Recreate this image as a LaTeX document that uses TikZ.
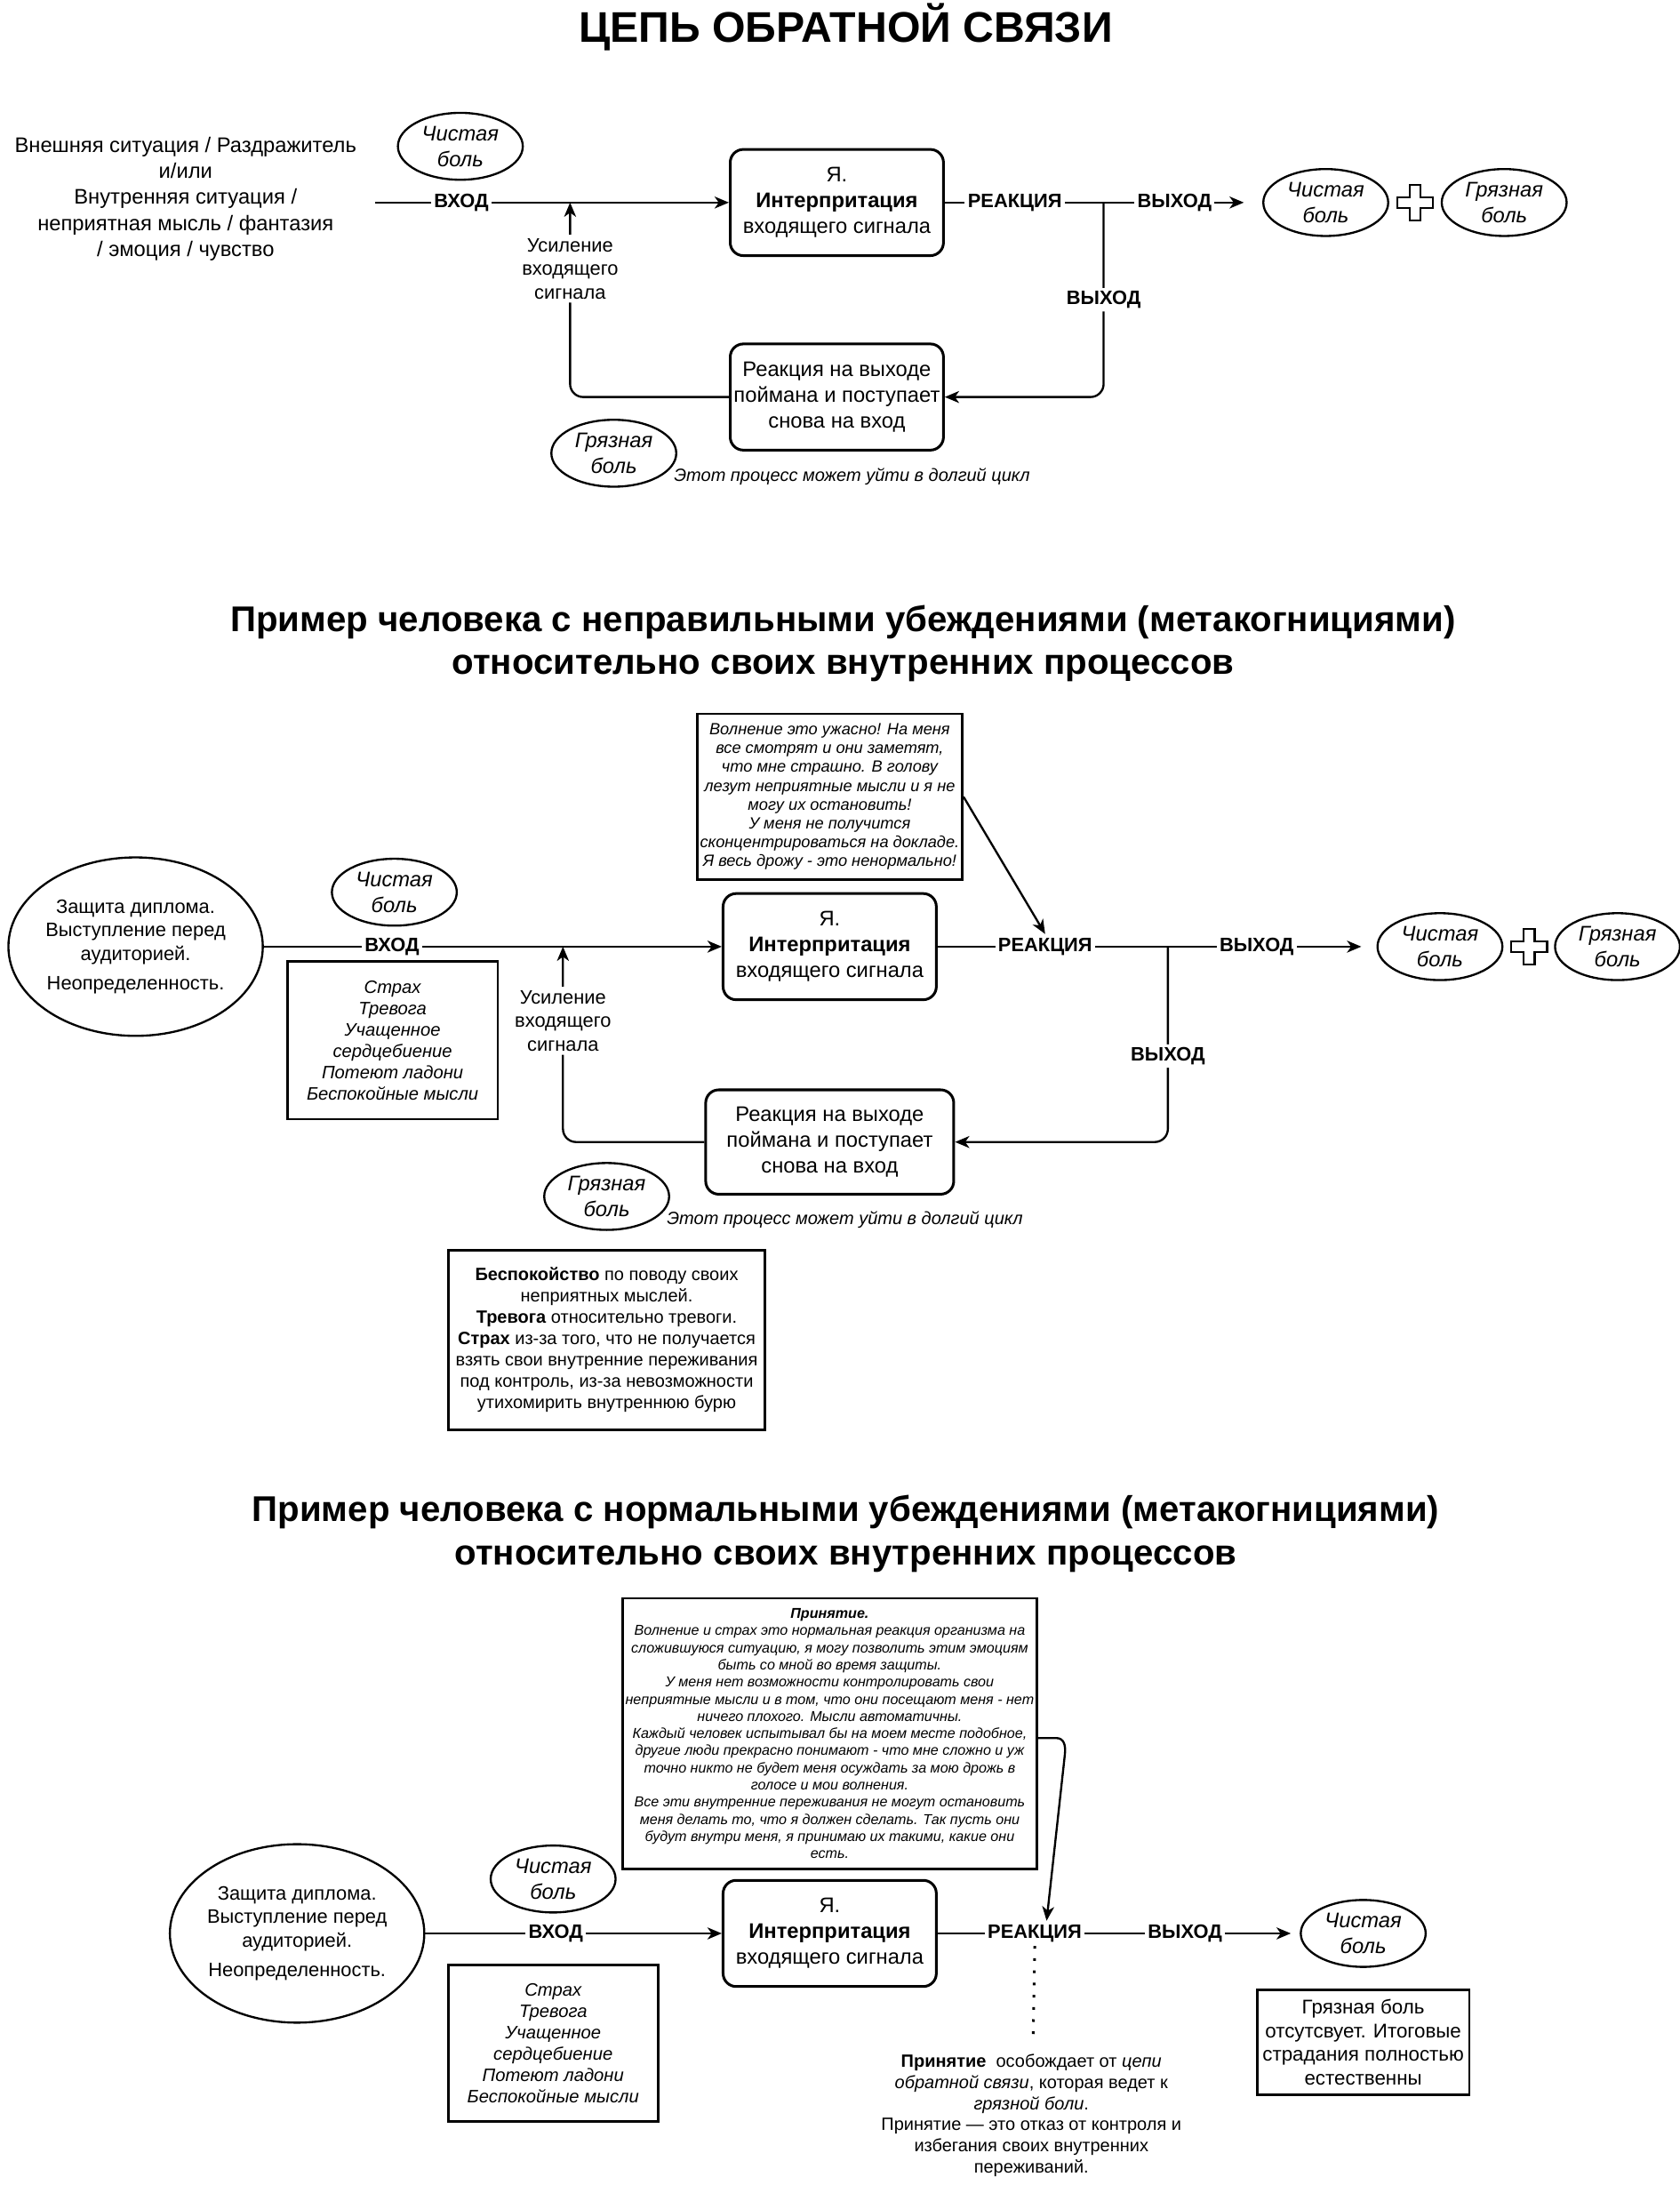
\documentclass[tikz,border=0pt]{standalone}
\usepackage{fontspec}
\setmainfont{Liberation Sans}
\usetikzlibrary{arrows.meta, shapes.geometric, positioning, calc}

\tikzset{
    txt/.style={align=center, font=\fontsize{10.1}{12.4}\selectfont},
    procbox/.style={txt, draw, line width=0.45mm, rounded corners=2.2mm, minimum width=35.85mm, minimum height=17.85mm, inner sep=0.5mm},
    painell/.style={ellipse, draw, line width=0.35mm, minimum width=21mm, minimum height=11.25mm, inner sep=0pt, align=center, font=\fontsize{10.1}{12.4}\selectfont\itshape},
    triggerell/.style={ellipse, draw, line width=0.35mm, minimum width=42mm, minimum height=30mm, inner sep=0pt, align=center, font=\fontsize{9.3}{11.3}\selectfont},
    notebox/.style={draw, line width=0.4mm, align=center, inner sep=0.5mm},
    lbl/.style={fill=white, inner sep=0.5mm, font=\fontsize{9.3}{11}\selectfont\bfseries},
    amplbl/.style={fill=white, inner sep=0.6mm, align=center, font=\fontsize{9.3}{11.3}\selectfont},
    loopnote/.style={font=\fontsize{8.5}{10}\selectfont\itshape},
    headline/.style={align=center, font=\fontsize{17.1}{20.6}\selectfont\bfseries},
    link/.style={line width=0.35mm},
    dots/.style={line width=0.45mm, dash pattern=on 0.45mm off 1.6mm},
    >={Stealth[length=2.4mm,width=2mm,inset=0.7mm]}
}

\begin{document}
\begin{tikzpicture}[x=0.15mm, y=-0.15mm]
    \useasboundingbox (0,0) rectangle (1883,2449);

    % first diagram: the loop itself
    \node[headline, font=\fontsize{20.5}{24}\selectfont\bfseries] (head1) at (948,30) {ЦЕПЬ ОБРАТНОЙ СВЯЗИ};

    \node[txt, inner xsep=3mm] (sit) at (208,223) {Внешняя ситуация / Раздражитель\\и/или\\Внутренняя ситуация /\\неприятная мысль / фантазия\\/ эмоция / чувство};
    \node[painell] (clean1) at (516,164) {Чистая\\боль};
    \node[procbox] (interp1) at (938,227) {Я.\\\textbf{Интерпритация}\\входящего сигнала};
    \node[procbox] (react1) at (938,445) {Реакция на выходе\\поймана и поступает\\снова на вход};
    \node[painell] (cleanout1) at (1486,227) {Чистая\\боль};
    \node[painell] (dirtyout1) at (1686,227) {Грязная\\боль};
    \node[painell] (dirty1) at (688,508) {Грязная\\боль};
    \node[loopnote] (loop1) at (955,534) {Этот процесс может уйти в долгий цикл};
    \coordinate (junc1) at (1237,227);
    \coordinate (amp1) at (639,227);
    \coordinate (plus1) at (1586,227);

    \draw[link,->] (sit.east |- interp1) -- node[lbl,pos=0.245]{ВХОД} (interp1.west);
    \draw[link] (interp1.east) -- node[lbl,pos=0.441]{РЕАКЦИЯ} (junc1);
    \draw[link,->,shorten >=3.1mm] (junc1) -- node[lbl,pos=0.447]{ВЫХОД} (cleanout1.west);
    \draw[link,->,rounded corners=2.2mm] (junc1) |- node[lbl,pos=0.25]{ВЫХОД} (react1.east);
    \draw[link,->,rounded corners=2.2mm] (react1.west) -| node[amplbl,pos=0.83]{Усиление\\входящего\\сигнала} (amp1);

    % second diagram: wrong beliefs
    \node[headline] (head2) at (945,721) {Пример человека с неправильными убеждениями (метакогнициями)\\относительно своих внутренних процессов};

    \node[triggerell] (trig2) at (152,1061) {Защита диплома.\\Выступление перед\\аудиторией.\\[1mm]Неопределенность.};
    \node[painell] (clean2) at (442,1000) {Чистая\\боль};
    \node[notebox, minimum width=35.4mm, minimum height=26.55mm, font=\fontsize{8.6}{10.2}\selectfont\itshape] (symp2) at (440,1166) {Страх\\Тревога\\Учащенное\\сердцебиение\\Потеют ладони\\Беспокойные мысли};
    \node[notebox, minimum width=44.25mm, minimum height=27.9mm, font=\fontsize{7.75}{9}\selectfont\itshape] (worry2) at (930,893) {Волнение это ужасно! На меня\\все смотрят и они заметят,\\что мне страшно. В голову\\лезут неприятные мысли и я не\\могу их остановить!\\У меня не получится\\сконцентрироваться на докладе.\\Я весь дрожу - это ненормально!};
    \node[procbox] (interp2) at (930,1061) {Я.\\\textbf{Интерпритация}\\входящего сигнала};
    \node[procbox, minimum width=41.7mm, minimum height=17.55mm] (react2) at (930,1280) {Реакция на выходе\\поймана и поступает\\снова на вход};
    \node[painell] (cleanout2) at (1614,1061) {Чистая\\боль};
    \node[painell] (dirtyout2) at (1813,1061) {Грязная\\боль};
    \node[painell] (dirty2) at (680,1341) {Грязная\\боль};
    \node[loopnote] (loop2) at (947,1367) {Этот процесс может уйти в долгий цикл};
    \node[notebox, minimum width=53.25mm, minimum height=30.15mm, font=\fontsize{8.5}{10.2}\selectfont] (meta2) at (680,1502) {\textbf{Беспокойство} по поводу своих\\неприятных мыслей.\\\textbf{Тревога} относительно тревоги.\\\textbf{Страх} из-за того, что не получается\\взять свои внутренние переживания\\под контроль, из-за невозможности\\утихомирить внутреннюю бурю};
    \coordinate (junc2) at (1309,1061);
    \coordinate (amp2) at (631,1061);
    \coordinate (plus2) at (1714,1061);

    \draw[link,->] (trig2.east) -- node[lbl,pos=0.28]{ВХОД} (interp2.west);
    \draw[link] (interp2.east) -- node[lbl,pos=0.467] (reactlbl2) {РЕАКЦИЯ} (junc2);
    \draw[link,->,shorten >=2.55mm] (junc2) -- node[lbl,pos=0.426]{ВЫХОД} (cleanout2.west);
    \draw[link,->,rounded corners=2.2mm] (junc2) |- node[lbl,pos=0.28]{ВЫХОД} (react2.east);
    \draw[link,->,rounded corners=2.2mm] (react2.west) -| node[amplbl,pos=0.81]{Усиление\\входящего\\сигнала} (amp2);
    \draw[link,->] (worry2.east) -- (reactlbl2.north);

    % plus signs between the two kinds of pain
    \foreach \p in {plus1,plus2}
        \draw[line width=0.35mm, fill=white] (\p) ++(-6,-20) -- ++(12,0) -- ++(0,14) -- ++(14,0) -- ++(0,12) -- ++(-14,0) -- ++(0,14) -- ++(-12,0) -- ++(0,-14) -- ++(-14,0) -- ++(0,-12) -- ++(14,0) -- cycle;

    % third diagram: normal beliefs
    \node[headline] (head3) at (948,1719) {Пример человека с нормальными убеждениями (метакогнициями)\\относительно своих внутренних процессов};

    \node[notebox, minimum width=69.45mm, minimum height=45.45mm, font=\fontsize{6.85}{8.2}\selectfont\itshape] (accept3) at (930,1943) {\textbf{Принятие.}\\Волнение и страх это нормальная реакция организма на\\сложившуюся ситуацию, я могу позволить этим эмоциям\\быть со мной во время защиты.\\У меня нет возможности контролировать свои\\неприятные мысли и в том, что они посещают меня - нет\\ничего плохого. Мысли автоматичны.\\Каждый человек испытывал бы на моем месте подобное,\\другие люди прекрасно понимают - что мне сложно и уж\\точно никто не будет меня осуждать за мою дрожь в\\голосе и мои волнения.\\Все эти внутренние переживания не могут остановить\\меня делать то, что я должен сделать. Так пусть они\\будут внутри меня, я принимаю их такими, какие они\\есть.};
    \node[triggerell] (trig3) at (333,2167) {Защита диплома.\\Выступление перед\\аудиторией.\\[1mm]Неопределенность.};
    \node[painell] (clean3) at (620,2106) {Чистая\\боль};
    \node[notebox, minimum width=35.25mm, minimum height=26.25mm, font=\fontsize{8.6}{10.2}\selectfont\itshape] (symp3) at (620,2290) {Страх\\Тревога\\Учащенное\\сердцебиение\\Потеют ладони\\Беспокойные мысли};
    \node[procbox] (interp3) at (930,2167) {Я.\\\textbf{Интерпритация}\\входящего сигнала};
    \node[painell] (cleanout3) at (1528,2167) {Чистая\\боль};
    \node[notebox, minimum width=35.7mm, minimum height=17.7mm, font=\fontsize{9.5}{11.3}\selectfont] (nodirty3) at (1528,2289) {Грязная боль\\отсутсвует. Итоговые\\страдания полностью\\естественны};
    \node[txt, font=\fontsize{8.5}{10.2}\selectfont] (freed3) at (1156,2371) {\textbf{Принятие}\ \ особождает от \textit{цепи}\\\textit{обратной связи}, которая ведет к\\\textit{грязной боли}.\\Принятие — это отказ от контроля и\\избегания своих внутренних\\переживаний.};
    \coordinate (dotend3) at (1158,2289);

    \draw[link,->] (trig3.east) -- node[lbl,pos=0.44]{ВХОД} (interp3.west);
    \draw[link,->,shorten >=1.5mm] (interp3.east) -- node[lbl,pos=0.268] (reactlbl3) {РЕАКЦИЯ} node[lbl,pos=0.683]{ВЫХОД} (cleanout3.west);
    \draw[dots] (reactlbl3.south) -- (dotend3);
    \draw[link,->] ([yshift=-0.75mm]accept3.east) -- ++(20,0) .. controls +(9,0) and +(1,-10) .. ++(10,18) -- ([xshift=2mm]reactlbl3.north);

\end{tikzpicture}
\end{document}
